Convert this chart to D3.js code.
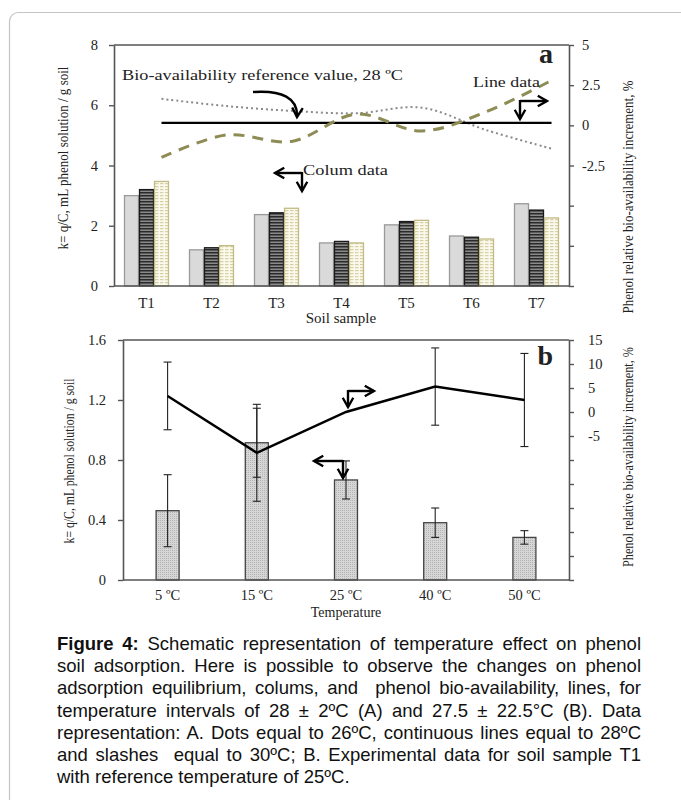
<!DOCTYPE html>
<html>
<head>
<meta charset="utf-8">
<script src="https://cdn.jsdelivr.net/npm/d3@7"></script>
<style>
  body { margin: 0; background: #fff; }
  #fig { position: relative; width: 681px; height: 800px; overflow: hidden; }
  .cap { position: absolute; left: 57px; width: 584px; font: 18.5px "Liberation Sans", Arial, sans-serif;
         line-height: 22px; color: #111; text-align: justify; text-align-last: justify; }
  .cap.last { text-align-last: left; }
</style>
</head>
<body>
<div id="fig"></div>
<script>
// ---- data, panel a ----
var soils = ["T1", "T2", "T3", "T4", "T5", "T6", "T7"];
var k26 = [3.0, 1.2, 2.37, 1.43, 2.03, 1.66, 2.73];
var k28 = [3.2, 1.27, 2.43, 1.48, 2.14, 1.62, 2.52];
var k30 = [3.47, 1.34, 2.58, 1.43, 2.18, 1.56, 2.26];
var inc26 = [1.65, 1.2, 0.9, 0.75, 1.1, -0.3, -1.45];
var inc28 = [0.15, 0.15, 0.15, 0.15, 0.15, 0.15, 0.15];
var inc30 = [-2.0, -0.6, -1.0, 0.7, -0.35, 0.85, 2.8];
var leftTicksA = [0, 2, 4, 6, 8];
var rightTicksA = [-10, -7.5, -5, -2.5, 0, 2.5, 5];
var rightLabelsA = ["", "", "", "-2.5", "0", "2.5", "5"];

// ---- data, panel b ----
var temps = ["5 ºC", "15 ºC", "25 ºC", "40 ºC", "50 ºC"];
var kT = [0.462, 0.915, 0.667, 0.382, 0.284];
var kErr = [0.24, 0.23, 0.127, 0.098, 0.045];
var incT = [3.35, -8.5, 0, 5.3, 2.5];
var incErr = [7.05, 10.1, 0, 8.05, 9.7];
var leftTicksB = [0, 0.4, 0.8, 1.2, 1.6];
var rightTicksB = [-35, -30, -25, -20, -15, -10, -5, 0, 5, 10, 15];
var rightLabelsB = ["", "", "", "", "", "", "-5", "0", "5", "10", "15"];

var captionLines = [
  "<b>Figure 4:</b> Schematic representation of temperature effect on phenol",
  "soil adsorption. Here is possible to observe the changes on phenol",
  "adsorption equilibrium, colums, and&nbsp; phenol bio-availability, lines, for",
  "temperature intervals of 28 ± 2ºC (A) and 27.5 ± 22.5°C (B). Data",
  "representation: A. Dots equal to 26ºC, continuous lines equal to 28ºC",
  "and slashes&nbsp; equal to 30ºC; B. Experimental data for soil sample T1",
  "with reference temperature of 25ºC."
];

var serif = '"Liberation Serif", "Times New Roman", serif';

var svg = d3.select("#fig").append("svg")
    .attr("width", 681).attr("height", 800)
    .style("position", "absolute").style("left", 0).style("top", 0);

// outer frame
svg.append("rect")
    .attr("x", 9.5).attr("y", 12.5).attr("width", 720).attr("height", 820)
    .attr("rx", 9).attr("fill", "none").attr("stroke", "#c4c4c4").attr("stroke-width", 1.2);

var defs = svg.append("defs");

var pDark = defs.append("pattern").attr("id", "stripeDark")
    .attr("patternUnits", "userSpaceOnUse").attr("width", 4).attr("height", 3);
pDark.append("rect").attr("width", 4).attr("height", 3).attr("fill", "#8a8a8a");
pDark.append("rect").attr("width", 4).attr("height", 1.5).attr("fill", "#2a2a2a");

var pCream = defs.append("pattern").attr("id", "stripeCream")
    .attr("patternUnits", "userSpaceOnUse").attr("width", 5).attr("height", 3);
pCream.append("rect").attr("width", 5).attr("height", 3).attr("fill", "#fbf9ec");
pCream.append("rect").attr("width", 3.5).attr("height", 1.2).attr("fill", "#d6d0a6");

var pDot = defs.append("pattern").attr("id", "dotGrey")
    .attr("patternUnits", "userSpaceOnUse").attr("width", 2).attr("height", 2);
pDot.append("rect").attr("width", 2).attr("height", 2).attr("fill", "#d6d6d6");
pDot.append("rect").attr("width", 1).attr("height", 1).attr("fill", "#b4b4b4");

defs.append("marker").attr("id", "head")
    .attr("viewBox", "0 0 10 10").attr("refX", 8).attr("refY", 5)
    .attr("markerWidth", 5.5).attr("markerHeight", 5.5).attr("orient", "auto")
  .append("path").attr("d", "M1,1 L8,5 L1,9").attr("fill", "none")
    .attr("stroke", "#000").attr("stroke-width", 1.8);

function txt(g, x, y, s, size, opts) {
  opts = opts || {};
  var t = g.append("text").attr("x", x).attr("y", y).text(s)
      .attr("font-family", opts.family || serif).attr("font-size", size)
      .attr("fill", "#222").attr("text-anchor", opts.anchor || "start");
  if (opts.weight) t.attr("font-weight", opts.weight);
  if (opts.len) t.attr("textLength", opts.len).attr("lengthAdjust", "spacingAndGlyphs");
  if (opts.rotate) t.attr("transform", "rotate(-90," + x + "," + y + ")");
  return t;
}

function elbow(g, cx, cy, hx, vy) {
  // two arrows from a corner: one horizontal, one vertical
  g.append("path").attr("d", "M" + cx + "," + cy + "H" + hx)
      .attr("stroke", "#000").attr("stroke-width", 2.4).attr("fill", "none")
      .attr("marker-end", "url(#head)");
  g.append("path").attr("d", "M" + cx + "," + (cy - 1) + "V" + vy)
      .attr("stroke", "#000").attr("stroke-width", 2.4).attr("fill", "none")
      .attr("marker-end", "url(#head)");
}

function styleAxis(g) {
  g.selectAll(".domain").attr("stroke", "#555").attr("stroke-width", 1.6);
  g.selectAll(".tick line").attr("stroke", "#555").attr("stroke-width", 1.4);
  g.selectAll(".tick text").attr("font-family", serif).attr("font-size", 14.5).attr("fill", "#222");
}

/* ===================== PANEL A ===================== */
var ga = svg.append("g");
var xa = d3.scaleBand().domain(soils).range([114, 569])
    .paddingInner(20 / 65).paddingOuter(10 / 65);
var xa1 = d3.scaleBand().domain(["26", "28", "30"]).range([0, xa.bandwidth()]);
var ya = d3.scaleLinear().domain([0, 8]).range([286, 45]);
var yaR = d3.scaleLinear().domain([-10, 5]).range([286, 45]);

var barSets = [
  { key: "26", vals: k26, fill: "#dadada", stroke: "#9a9a9a" },
  { key: "28", vals: k28, fill: "url(#stripeDark)", stroke: "#1a1a1a" },
  { key: "30", vals: k30, fill: "url(#stripeCream)", stroke: "#c2bb86" }
];
barSets.forEach(function (s) {
  ga.selectAll(".bar" + s.key).data(s.vals).enter().append("rect")
      .attr("x", function (d, i) { return xa(soils[i]) + xa1(s.key) + 0.5; })
      .attr("y", function (d) { return ya(d); })
      .attr("width", xa1.bandwidth() - 1)
      .attr("height", function (d) { return ya(0) - ya(d); })
      .attr("fill", s.fill).attr("stroke", s.stroke).attr("stroke-width", 1.3);
});

// line series sit at the third bar of each group
var lineX = function (d, i) { return xa(soils[i]) + xa1("30") + xa1.bandwidth() / 2; };
var lineA = d3.line().x(lineX).y(function (d) { return yaR(d); }).curve(d3.curveCatmullRom.alpha(0.5));

ga.append("path").datum(inc26).attr("d", lineA).attr("fill", "none")
    .attr("stroke", "#8a8a8a").attr("stroke-width", 2).attr("stroke-dasharray", "2,3");
ga.append("path").datum(inc28).attr("d", lineA).attr("fill", "none")
    .attr("stroke", "#000").attr("stroke-width", 2.4);
ga.append("path").datum(inc30).attr("d", lineA).attr("fill", "none")
    .attr("stroke", "#8e8c55").attr("stroke-width", 3).attr("stroke-dasharray", "11,8");

// frame and axes
ga.append("line").attr("x1", 114).attr("x2", 569).attr("y1", 45).attr("y2", 45)
    .attr("stroke", "#555").attr("stroke-width", 1.6);
ga.append("line").attr("x1", 114).attr("x2", 569).attr("y1", 286).attr("y2", 286)
    .attr("stroke", "#555").attr("stroke-width", 1.6);
var axLA = ga.append("g").attr("transform", "translate(114,0)")
    .call(d3.axisLeft(ya).tickValues(leftTicksA).tickSize(5).tickSizeOuter(0).tickPadding(11));
styleAxis(axLA);
var axRA = ga.append("g").attr("transform", "translate(569,0)")
    .call(d3.axisRight(yaR).tickValues(rightTicksA).tickSize(5).tickSizeOuter(0).tickPadding(8)
      .tickFormat(function (d, i) { return rightLabelsA[i]; }));
styleAxis(axRA);
var axBA = ga.append("g").attr("transform", "translate(0,286)")
    .call(d3.axisBottom(xa).tickSize(0).tickPadding(11));
axBA.select(".domain").remove();
axBA.selectAll(".tick text").attr("font-family", serif).attr("font-size", 15).attr("fill", "#222");

txt(ga, 341, 323, "Soil sample", 15, { anchor: "middle" });
txt(ga, 68, 158, "k= q/C, mL  phenol solution  / g soil", 15, { anchor: "middle", rotate: true, len: 183 });
txt(ga, 633, 197, "Phenol  relative  bio-availability  increment,  %", 15, { anchor: "middle", rotate: true, len: 233 });
txt(ga, 553, 63, "a", 28, { anchor: "end", weight: "bold" });
txt(ga, 122, 80, "Bio-availability  reference  value,  28 ºC", 15, { len: 281 });
txt(ga, 473, 87, "Line  data", 15, { len: 67 });
txt(ga, 303, 175, "Colum  data", 15, { len: 85 });

ga.append("path").attr("d", "M253,92 C282,90 298,98 297,117")
    .attr("stroke", "#000").attr("stroke-width", 2.4).attr("fill", "none")
    .attr("marker-end", "url(#head)");
elbow(ga, 520, 101, 547, 119);
elbow(ga, 302, 173, 275, 191);

/* ===================== PANEL B ===================== */
var gb = svg.append("g");
var xb = d3.scaleBand().domain(temps).range([123, 569])
    .paddingInner(1 - 23 / 89.2).paddingOuter((1 - 23 / 89.2) / 2);
var yb = d3.scaleLinear().domain([0, 1.6]).range([580, 340]);
var ybR = d3.scaleLinear().domain([-35, 15]).range([580, 340]);
var cx = function (i) { return xb(temps[i]) + xb.bandwidth() / 2; };

gb.selectAll(".barT").data(kT).enter().append("rect")
    .attr("x", function (d, i) { return xb(temps[i]); })
    .attr("y", function (d) { return yb(d); })
    .attr("width", xb.bandwidth())
    .attr("height", function (d) { return yb(0) - yb(d); })
    .attr("fill", "url(#dotGrey)").attr("stroke", "#444").attr("stroke-width", 1.3);

function errBars(vals, errs, scale) {
  vals.forEach(function (v, i) {
    if (!errs[i]) return;
    var x = cx(i), y1 = scale(v - errs[i]), y2 = scale(v + errs[i]);
    gb.append("line").attr("x1", x).attr("x2", x).attr("y1", y1).attr("y2", y2)
        .attr("stroke", "#222").attr("stroke-width", 1.1);
    [y1, y2].forEach(function (y) {
      gb.append("line").attr("x1", x - 4).attr("x2", x + 4).attr("y1", y).attr("y2", y)
          .attr("stroke", "#222").attr("stroke-width", 1.1);
    });
  });
}
errBars(kT, kErr, yb);
errBars(incT, incErr, ybR);

gb.append("path").datum(incT)
    .attr("d", d3.line().x(function (d, i) { return cx(i); }).y(function (d) { return ybR(d); }))
    .attr("fill", "none").attr("stroke", "#000").attr("stroke-width", 2.4);

gb.append("line").attr("x1", 123).attr("x2", 569).attr("y1", 340).attr("y2", 340)
    .attr("stroke", "#555").attr("stroke-width", 1.6);
gb.append("line").attr("x1", 123).attr("x2", 569).attr("y1", 580).attr("y2", 580)
    .attr("stroke", "#555").attr("stroke-width", 1.6);
var axLB = gb.append("g").attr("transform", "translate(123,0)")
    .call(d3.axisLeft(yb).tickValues(leftTicksB).tickSize(5).tickSizeOuter(0).tickPadding(12)
      .tickFormat(function (d) { return d === 0 ? "0" : d3.format(".1f")(d); }));
styleAxis(axLB);
var axRB = gb.append("g").attr("transform", "translate(569,0)")
    .call(d3.axisRight(ybR).tickValues(rightTicksB).tickSize(5).tickSizeOuter(0).tickPadding(14)
      .tickFormat(function (d, i) { return rightLabelsB[i]; }));
styleAxis(axRB);
var axBB = gb.append("g").attr("transform", "translate(0,580)")
    .call(d3.axisBottom(xb).tickSize(0).tickPadding(10));
axBB.select(".domain").remove();
axBB.selectAll(".tick text").attr("font-family", serif).attr("font-size", 14.5).attr("fill", "#222");

txt(gb, 346, 617, "Temperature", 14, { anchor: "middle" });
txt(gb, 74, 461, "k= q/C, mL  phenol solution  / g soil", 14, { anchor: "middle", rotate: true, len: 165 });
txt(gb, 633, 457, "Phenol  relative  bio-availability  increment,  %", 14, { anchor: "middle", rotate: true, len: 220 });
txt(gb, 553, 365, "b", 28, { anchor: "end", weight: "bold" });

elbow(gb, 348, 391, 374, 407);
elbow(gb, 343, 461, 314, 478);

/* ===================== CAPTION ===================== */
d3.select("#fig").selectAll(".cap").data(captionLines).enter().append("div")
    .attr("class", function (d, i) { return i === captionLines.length - 1 ? "cap last" : "cap"; })
    .style("top", function (d, i) { return (633 + i * 22.2) + "px"; })
    .html(function (d) { return d; });
</script>
</body>
</html>
